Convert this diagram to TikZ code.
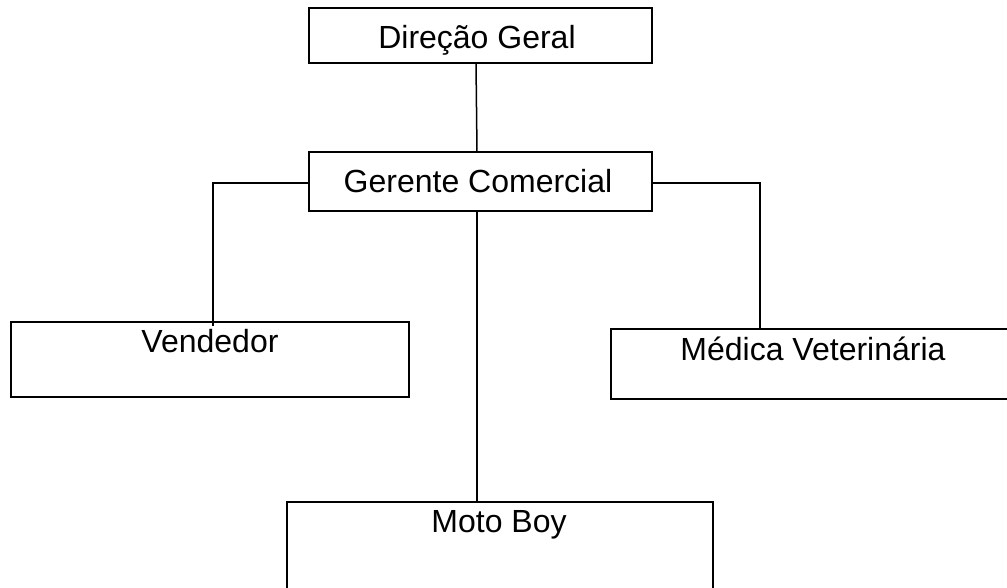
\documentclass[tikz,border=0pt]{standalone}
\usepackage{fontspec}
\setmainfont{Liberation Sans}
\begin{document}
\begin{tikzpicture}[x=1pt,y=-1pt,
  box/.style={draw=black,line width=2pt,rectangle,inner sep=0pt,outer sep=0pt,fill=none},
  lbl/.style={anchor=base,inner sep=0pt,font=\fontsize{32}{38}\selectfont},
  conn/.style={draw=black,line width=1.5pt}]
\useasboundingbox (0,0) rectangle (1007,587);
\clip (0,0) rectangle (1007,587);
\fill[white] (0,0) rectangle (1007,587);
% boxes
\node[box,minimum width=343pt,minimum height=55pt] (dg) at (480.5,35.5) {};
\node[box,minimum width=343pt,minimum height=59pt] (gc) at (480.5,181.5) {};
\node[box,minimum width=398pt,minimum height=75pt] (vd) at (210,359.5) {};
\node[box,minimum width=409pt,minimum height=70pt] (mv) at (815.5,364) {};
\node[box,minimum width=426pt,minimum height=108pt] (mb) at (500,556) {};
% labels
\node[lbl] (tdg) at (477,48) {Direção Geral};
\node[lbl] (tgc) at (478,192) {Gerente Comercial};
\node[lbl] (tvd) at (210,352) {Vendedor};
\node[lbl] (tmv) at (813,360) {Médica Veterinária};
\node[lbl] (tmb) at (499,532) {Moto Boy};
% connectors
\draw[conn] ([xshift=-4.5pt]dg.south) -- ([xshift=-3.5pt]gc.north);
\draw[conn] ([yshift=-1.5pt]gc.west) -| ([xshift=3pt,yshift=-4pt]vd.north);
\draw[conn] ([yshift=-1.5pt]gc.east) -| ([xshift=-55.5pt]mv.north);
\draw[conn] ([xshift=-3.5pt]gc.south) -- ([xshift=-3.5pt]gc.south |- mb.north);
\end{tikzpicture}
\end{document}
